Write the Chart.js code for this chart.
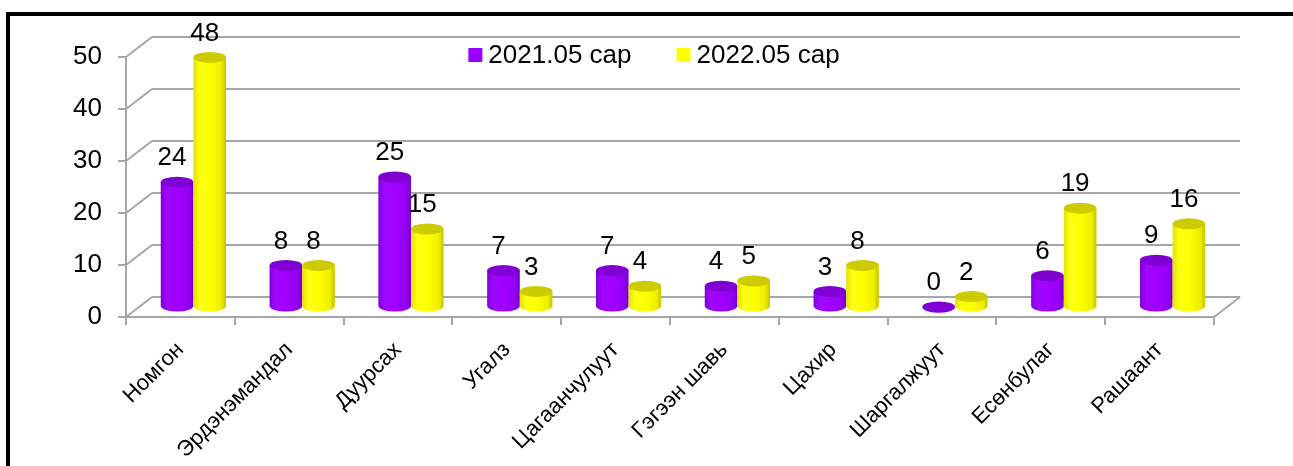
<!DOCTYPE html>
<html>
<head>
<meta charset="utf-8">
<script src="https://cdn.jsdelivr.net/npm/chart.js@4.4.0/dist/chart.umd.min.js"></script>
<style>
  html, body { margin: 0; padding: 0; background: #fff; overflow: hidden; }
  #wrap { position: relative; width: 1293px; height: 466px; overflow: hidden; }
  #frame { position: absolute; left: 6px; top: 12px; width: 1400px; height: 600px; border-left: 4px solid #000; border-top: 4px solid #000; }
  canvas { position: absolute; left: 0; top: 0; }
</style>
</head>
<body>
<div id="wrap">
  <div id="frame"></div>
  <canvas id="chart" width="1293" height="466"></canvas>
</div>
<script>
// Данные
const categories = ['Номгон', 'Эрдэнэмандал', 'Дуурсах', 'Угалз', 'Цагаанчулуут', 'Гэгээн шавь', 'Цахир', 'Шаргалжуут', 'Есөнбулаг', 'Рашаант'];
const seriesNames = ['2021.05 сар', '2022.05 сар'];
const values2021 = [24, 8, 25, 7, 7, 4, 3, 0, 6, 9];
const values2022 = [48, 8, 15, 3, 4, 5, 8, 2, 19, 16];
const yTicks = [0, 10, 20, 30, 40, 50];

// Стиль
const DEPTH_X = 26, DEPTH_Y = -20;
const GRID = '#a6a6a6';
const FONT = 'Arial, "Liberation Sans", sans-serif';
const palette = [
    {
        main: '#9900ff',
        top: '#8000d4',
        body: [[0, '#8400dc'], [0.2, '#9d08ff'], [0.5, '#a200ff'], [0.85, '#9300f2'], [1, '#7800c8']]
    },
    {
        main: '#ffff00',
        top: '#cccc00',
        body: [[0, '#e2e200'], [0.2, '#ffff14'], [0.5, '#ffff00'], [0.85, '#eeee00'], [1, '#c4c400']]
    }
];

function line(ctx, x1, y1, x2, y2) {
    ctx.beginPath();
    ctx.moveTo(x1, y1);
    ctx.lineTo(x2, y2);
    ctx.stroke();
}

function drawCylinder(ctx, cx, top, base, w, col) {
    const rx = w / 2, ry = 5.5;
    const g = ctx.createLinearGradient(cx - rx, 0, cx + rx, 0);
    col.body.forEach(([o, c]) => g.addColorStop(o, c));
    ctx.fillStyle = g;
    ctx.beginPath();
    ctx.moveTo(cx - rx, top);
    ctx.lineTo(cx - rx, base);
    ctx.ellipse(cx, base, rx, ry, 0, Math.PI, 0, true);
    ctx.lineTo(cx + rx, top);
    ctx.closePath();
    ctx.fill();
    ctx.fillStyle = col.top;
    ctx.beginPath();
    ctx.ellipse(cx, top, rx, ry, 0, 0, Math.PI * 2);
    ctx.fill();
}

// 3D стены, цилиндры, подписи
const cylinder3d = {
    id: 'cylinder3d',
    beforeDatasetsDraw(chart) {
        const { ctx, chartArea: a, scales } = chart;
        ctx.save();
        ctx.strokeStyle = GRID;
        ctx.lineWidth = 2;
        yTicks.forEach(v => {
            const py = scales.y.getPixelForValue(v);
            line(ctx, a.left, py, a.left + DEPTH_X, py + DEPTH_Y);
            line(ctx, a.left + DEPTH_X, py + DEPTH_Y, a.right + DEPTH_X, py + DEPTH_Y);
        });
        line(ctx, a.right, a.bottom, a.right + DEPTH_X, a.bottom + DEPTH_Y);

        const metas = chart.data.datasets.map((d, i) => chart.getDatasetMeta(i));
        categories.forEach((c, j) => {
            metas.forEach((meta, i) => {
                const bar = meta.data[j];
                const { x, y, base, width } = bar.getProps(['x', 'y', 'base', 'width'], true);
                drawCylinder(ctx, x + DEPTH_X / 2, y + DEPTH_Y / 2, base + DEPTH_Y / 2, width, palette[i]);
            });
        });
        ctx.restore();
        return false;
    },
    afterDraw(chart) {
        const { ctx, chartArea: a } = chart;
        ctx.save();
        ctx.fillStyle = '#000';
        ctx.font = '26px ' + FONT;
        ctx.textAlign = 'center';
        ctx.textBaseline = 'middle';
        chart.data.datasets.forEach((ds, i) => {
            const meta = chart.getDatasetMeta(i);
            meta.data.forEach((bar, j) => {
                const { x, y } = bar.getProps(['x', 'y'], true);
                ctx.fillText(String(ds.data[j]), x + DEPTH_X / 2 - 5, y + DEPTH_Y / 2 - 24);
            });
        });

        // легенда
        ctx.textAlign = 'left';
        const box = 14, gapText = 6, gapItem = 45;
        const widths = chart.data.datasets.map(ds => ctx.measureText(ds.label).width);
        const total = widths.reduce((s, w) => s + box + gapText + w, 0) + gapItem * (widths.length - 1);
        let lx = (a.left + a.right) / 2 - 16 - total / 2;
        const ly = 55;
        chart.data.datasets.forEach((ds, i) => {
            ctx.fillStyle = palette[i].main;
            ctx.fillRect(lx, ly - box / 2, box, box);
            ctx.fillStyle = '#000';
            ctx.fillText(ds.label, lx + box + gapText, ly + 1);
            lx += box + gapText + widths[i] + gapItem;
        });
        ctx.restore();
    }
};

const ctx = document.getElementById('chart').getContext('2d');
new Chart(ctx, {
    type: 'bar',
    data: {
        labels: categories,
        datasets: [
            { label: seriesNames[0], data: values2021, backgroundColor: palette[0].main },
            { label: seriesNames[1], data: values2022, backgroundColor: palette[1].main }
        ]
    },
    options: {
        responsive: false,
        animation: false,
        devicePixelRatio: 1,
        categoryPercentage: 0.6,
        barPercentage: 1.0,
        layout: { padding: { left: 0, top: 57, right: 79, bottom: 0 } },
        plugins: { legend: { display: false }, tooltip: { enabled: false } },
        scales: {
            x: {
                grid: { drawOnChartArea: false, color: GRID, tickColor: GRID, tickLength: 8, lineWidth: 2 },
                border: { color: GRID, width: 2 },
                ticks: { autoSkip: false, maxRotation: 45, minRotation: 45, color: '#000', padding: 12, font: { family: FONT, size: 22 } },
                afterFit(s) { s.height = 149; }
            },
            y: {
                min: 0,
                max: 50,
                grid: { drawOnChartArea: false, color: GRID, tickColor: GRID, tickLength: 8, lineWidth: 2 },
                border: { color: GRID, width: 2 },
                ticks: { stepSize: 10, color: '#000', padding: 16, font: { family: FONT, size: 26 } },
                afterFit(s) { s.width = 126; }
            }
        }
    },
    plugins: [cylinder3d]
});
</script>
</body>
</html>
